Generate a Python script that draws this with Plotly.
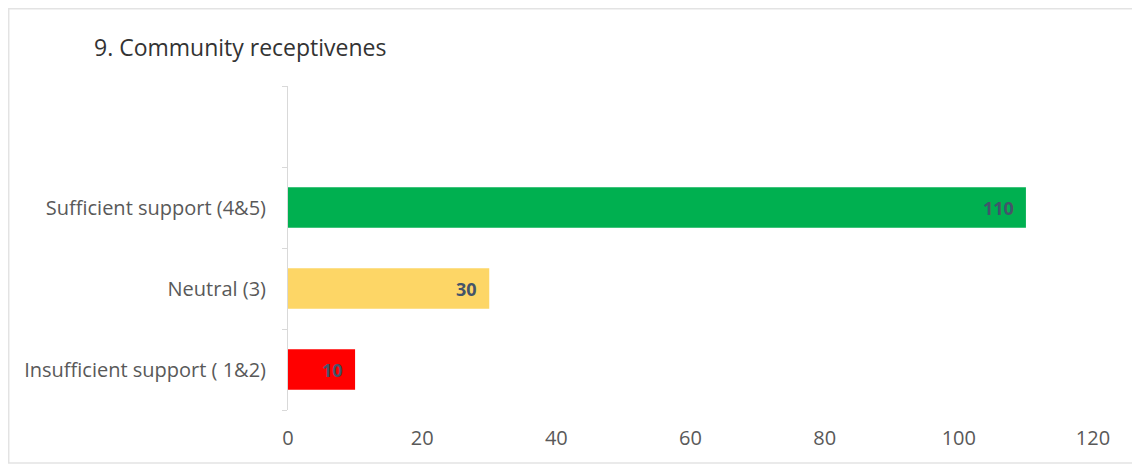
import plotly.graph_objects as go

categories = ["Insufficient support ( 1&2)", "Neutral (3)", "Sufficient support (4&5)"]
values = [10, 30, 110]
colors = ["#ff0000", "#fdd666", "#00b050"]
slots = categories + [" "]
x_ticks = [0, 20, 40, 60, 80, 100, 120]

# browser body margin is 8px, so the figure is sized/positioned in page pixels minus 8
OFF = 8
W, H = 1140 - OFF, 466 - OFF
L, R, T, B = 288 - OFF, W - (1093 - OFF), 86 - OFF, H - (410 - OFF)

def px_x(p):
    return (p - OFF - L) / (W - L - R)

def px_y(p):
    return 1 - (p - OFF - T) / (H - T - B)

FONT = "Open Sans, Lato, sans-serif"

fig = go.Figure(go.Bar(
    x=values, y=categories, orientation="h",
    marker=dict(color=colors, line=dict(width=0)),
    width=0.5,
    hoverinfo="skip",
))

annotations = [dict(text="9. Community receptivenes", xref="paper", yref="paper",
                    x=px_x(92), y=px_y(47), xanchor="left", yanchor="middle",
                    showarrow=False, font=dict(family=FONT, size=23, color="#333333"))]
for c, v in zip(categories, values):
    annotations.append(dict(text=f"<b>{v}</b>", x=v, y=c, xref="x", yref="y",
                            xanchor="right", yanchor="middle", xshift=-10,
                            showarrow=False,
                            font=dict(family=FONT, size=18, color="#44546a")))

fig.update_layout(
    width=W, height=H,
    margin=dict(l=L, r=R, t=T, b=B),
    paper_bgcolor="white", plot_bgcolor="white",
    showlegend=False,
    font=dict(family=FONT, color="#595959", size=18),
    xaxis=dict(range=[0, 120], tickvals=x_ticks, showgrid=False, zeroline=False,
               showline=False, ticks="", tickfont=dict(size=20, color="#595959"),
               ticklabelstandoff=14, fixedrange=True),
    yaxis=dict(type="category", categoryorder="array", categoryarray=slots,
               range=[-0.5, 3.5], tickson="boundaries", ticks="outside", ticklen=5,
               tickcolor="#d9d9d9", showline=True, linecolor="#d9d9d9", linewidth=1,
               showgrid=False, zeroline=False, ticklabelstandoff=17,
               tickfont=dict(size=20, color="#595959")),
    annotations=annotations,
    shapes=[dict(type="rect", xref="paper", yref="paper",
                 x0=px_x(8.7), x1=px_x(1138), y0=px_y(463), y1=px_y(8.7),
                 line=dict(color="#e3e3e3", width=1.5), fillcolor="rgba(0,0,0,0)",
                 layer="below")],
)

fig.write_html("out.html")
